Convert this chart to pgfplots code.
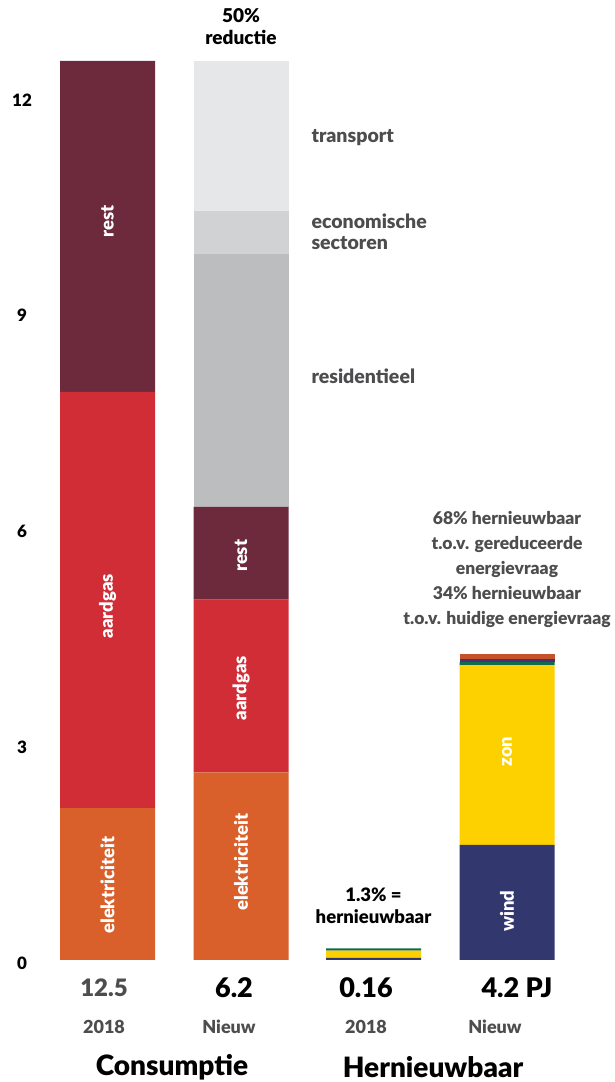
\documentclass[border=0pt]{standalone}
\usepackage{pgfplots}
\pgfplotsset{compat=1.18}
\usepackage{fontspec}
\setmainfont{Lato}[BoldFont={Lato Black}]

\definecolor{rest}{HTML}{6D2A3C}
\definecolor{gas}{HTML}{D12D37}
\definecolor{elek}{HTML}{D9602B}
\definecolor{trans}{HTML}{E6E7E8}
\definecolor{econ}{HTML}{D1D2D4}
\definecolor{resid}{HTML}{BCBDBF}
\definecolor{wind}{HTML}{32376E}
\definecolor{zon}{HTML}{FDD000}
\definecolor{groen}{HTML}{0F6B4A}
\definecolor{paars}{HTML}{4B2F6E}
\definecolor{rood}{HTML}{C4522B}
\definecolor{txt}{HTML}{4D4D4F}

% size, baselineskip
\newcommand{\fs}[2]{\fontsize{#1}{#2}\selectfont\bfseries}

\pgfplotsset{frame/.style={
    at={(0pt,122pt)}, anchor=south west,
    scale only axis, width=615pt, height=899pt,
    xmin=0, xmax=615, ymin=0, ymax=12.5,
    clip=false}}

\begin{document}
\begin{tikzpicture}[
    inbar/.style={text=white, rotate=90, font=\fs{18.5}{20}},
    side/.style={text=txt, anchor=west, align=left, font=\fs{19.5}{21}},
]
\useasboundingbox (0,0) rectangle (615pt,1082pt);
\begin{axis}[
    frame,
    ybar stacked, bar width=95pt,
    axis line style={draw=none}, major tick length=0pt,
    xtick=\empty, ytick={0,3,6,9,12},
    yticklabel style={anchor=center, xshift=22pt, yshift=-3pt, font=\fs{17}{20}},
    /pgf/number format/assume math mode=true,
]
% layers stacked bottom to top, one colour each
\addplot[fill=elek, draw=none] coordinates {(107.5,2.11) (241,2.61) (373.5,0) (507,0)};
\addplot[fill=wind, draw=none] coordinates {(107.5,0) (241,0) (373.5,0.03) (507,1.60)};
\addplot[fill=gas, draw=none] coordinates {(107.5,5.79) (241,2.40) (373.5,0) (507,0)};
\addplot[fill=zon, draw=none] coordinates {(107.5,0) (241,0) (373.5,0.10) (507,2.50)};
\addplot[fill=rest, draw=none] coordinates {(107.5,4.60) (241,1.29) (373.5,0) (507,0)};
\addplot[fill=groen, draw=none] coordinates {(107.5,0) (241,0) (373.5,0.03) (507,0.04)};
\addplot[fill=paars, draw=none] coordinates {(107.5,0) (241,0) (373.5,0) (507,0.04)};
\addplot[fill=rood, draw=none] coordinates {(107.5,0) (241,0) (373.5,0) (507,0.07)};
\addplot[fill=resid, draw=none] coordinates {(107.5,0) (241,3.51) (373.5,0) (507,0)};
\addplot[fill=econ, draw=none] coordinates {(107.5,0) (241,0.61) (373.5,0) (507,0)};
\addplot[fill=trans, draw=none] coordinates {(107.5,0) (241,2.08) (373.5,0) (507,0)};
\end{axis}

% second, empty axis on top of the first one for the texts
\begin{axis}[frame, hide axis]
\node[inbar] at (axis cs:107.5,10.27) {rest};
\node[inbar] at (axis cs:107.5,4.92) {aardgas};
\node[inbar] at (axis cs:107.5,1.04) {elektriciteit};
\node[inbar] at (axis cs:241,5.62) {rest};
\node[inbar] at (axis cs:241,3.78) {aardgas};
\node[inbar] at (axis cs:241,1.36) {elektriciteit};
\node[inbar] at (axis cs:507,2.90) {zon};
\node[inbar] at (axis cs:507,0.68) {wind};

\node[side] at (axis cs:308,11.43) {transport};
\node[side] at (axis cs:308,10.13) {economische\\sectoren};
\node[side] at (axis cs:308,8.12) {residentieel};

\node[align=center, font=\fs{19}{22}] at (axis cs:241,12.98) {50\%\\reductie};
\node[align=center, font=\fs{18.5}{22}] at (axis cs:373.5,0.75) {1.3\% =\\hernieuwbaar};

\node[text=txt, align=center, font=\fs{17.5}{25}] at (axis cs:507,5.43)
  {68\% hernieuwbaar\\t.o.v. gereduceerde\\energievraag\\34\% hernieuwbaar\\t.o.v. huidige energievraag};

\node[text=txt, font=\fs{24}{28}] at (axis cs:104,-0.39) {12.5};
\node[font=\fs{27}{30}] at (axis cs:234,-0.39) {6.2};
\node[font=\fs{27}{30}] at (axis cs:366,-0.39) {0.16};
\node[font=\fs{27}{30}] at (axis cs:517,-0.39) {4.2 PJ};
\node[text=txt, font=\fs{18}{20}] at (axis cs:104,-0.93) {2018};
\node[text=txt, font=\fs{18}{20}] at (axis cs:229,-0.93) {Nieuw};
\node[text=txt, font=\fs{18}{20}] at (axis cs:366,-0.93) {2018};
\node[text=txt, font=\fs{18}{20}] at (axis cs:495,-0.93) {Nieuw};
\node[font=\fs{28}{32}] at (axis cs:172,-1.49) {Consumptie};
\node[font=\fs{28}{32}] at (axis cs:433,-1.49) {Hernieuwbaar};
\end{axis}
\end{tikzpicture}
\end{document}
